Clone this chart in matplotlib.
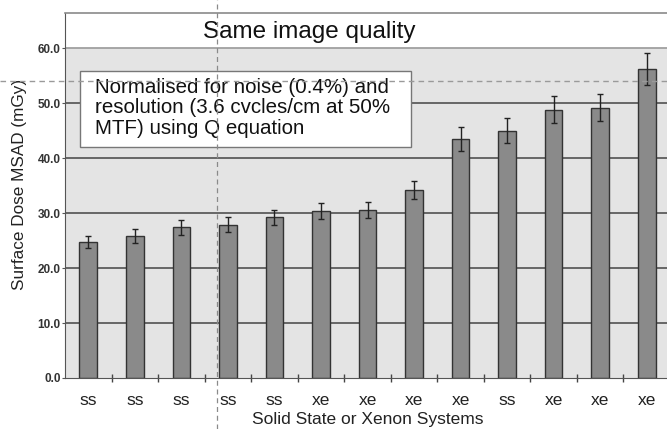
import matplotlib.pyplot as plt
import numpy as np
from matplotlib.patches import Rectangle

plt.rcParams['font.family'] = ['Liberation Sans', 'DejaVu Sans']

systems = ['ss', 'ss', 'ss', 'ss', 'ss', 'xe', 'xe', 'xe', 'xe', 'ss', 'xe', 'xe', 'xe']
dose = [24.8, 25.8, 27.4, 27.9, 29.2, 30.4, 30.6, 34.2, 43.5, 45.0, 48.8, 49.2, 56.2]
dose_err = [1.1, 1.3, 1.3, 1.3, 1.4, 1.5, 1.5, 1.6, 2.2, 2.3, 2.45, 2.5, 2.9]
ref_dose = 54.0

fig = plt.figure(figsize=(6.67, 4.29), dpi=100)
ax = fig.add_axes([65 / 667, 51 / 429, 605 / 667, 365 / 429])

x = np.arange(len(dose))
ymax = 66.4

# grey plotting area with a white band on top for the heading
ax.set_facecolor('white')
ax.axhspan(0, 60, color='#e4e4e4', zorder=0)
for yv in range(10, 60, 10):
    ax.axhline(yv, color='#444444', lw=1.1, zorder=1)
ax.axhline(60, color='#9a9a9a', lw=1.2, zorder=1)

ax.bar(x, dose, width=0.38, color='#8a8a8a', edgecolor='#333333', lw=1.0, zorder=2)
ax.errorbar(x, dose, yerr=dose_err, fmt='none', ecolor='#222222', elinewidth=1.0,
            capsize=2.5, capthick=1.0, zorder=3)

ax.set_xlim(-0.5, len(dose) - 0.5)
ax.set_ylim(0, ymax)

ax.set_yticks(np.arange(0, 61, 10))
ax.set_yticklabels([f'{v:.1f}' for v in np.arange(0, 61, 10)], fontsize=8.5,
                   fontweight='bold', color='#333333')
ax.tick_params(axis='y', length=2, width=0.8, color='#555555', pad=1)

ax.set_xticks(x)
ax.set_xticklabels(systems, fontsize=12.5, color='#222222')
ax.set_xticks(np.arange(0.5, len(dose) - 0.5, 1), minor=True)
ax.tick_params(axis='x', which='major', length=0, pad=11)
ax.tick_params(axis='x', which='minor', length=6, width=1.0, color='#444444',
               direction='inout')

for side in ['top', 'right']:
    ax.spines[side].set_color('#8a8a8a')
    ax.spines[side].set_linewidth(1.2)
ax.spines['left'].set_color('#555555')
ax.spines['bottom'].set_color('#555555')

ax.set_ylabel('Surface Dose MSAD (mGy)', fontsize=12.3, color='#222222')
ax.yaxis.set_label_coords(-0.062, 0.53)
ax.set_xlabel('Solid State or Xenon Systems', fontsize=12.5, color='#222222', labelpad=3)

ax.text(2.46, 62.9, 'Same image quality', fontsize=17.5, color='#111111',
        ha='left', va='center')

# annotation box
ax.add_patch(Rectangle((-0.18, 42.0), 7.12, 13.8, facecolor='white',
                       edgecolor='#777777', lw=1.0, zorder=4))
ax.text(0.145, 54.6, 'Normalised for noise (0.4%) and\nresolution (3.6 cvcles/cm at 50%\nMTF) using Q equation',
        fontsize=14.8, color='#111111', ha='left', va='top', linespacing=1.1, zorder=5)

# dashed guide lines
ax.axhline(ref_dose, xmin=-65 / 605, xmax=1.0, color='#9a9a9a', lw=1.0,
           ls=(0, (4, 3)), clip_on=False, zorder=6)
ax.axvline(2.76, ymin=-51 / 365, ymax=378 / 365, color='#8a8a8a', lw=0.9,
           ls=(0, (4, 3)), clip_on=False, zorder=6)

fig.savefig('out.png', dpi=100)
